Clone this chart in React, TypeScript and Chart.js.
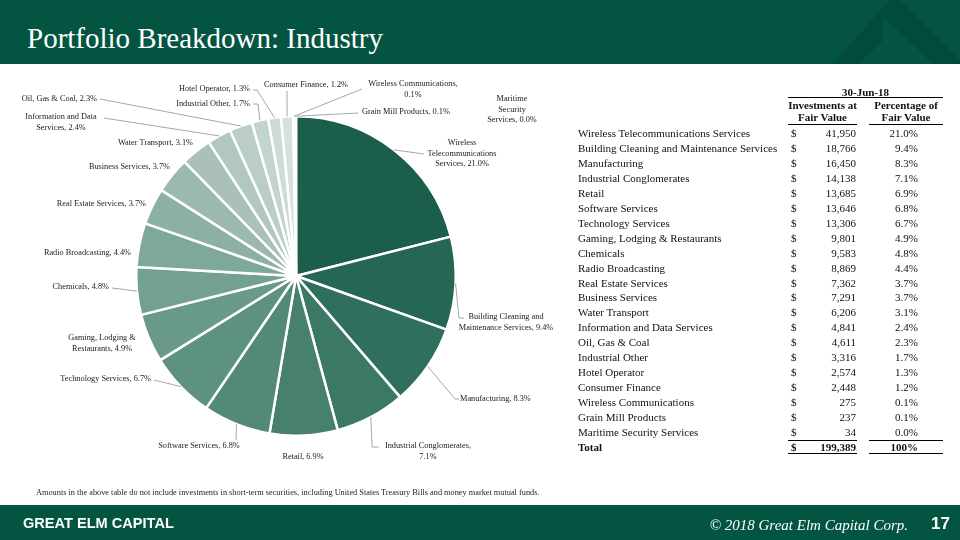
import React, { useEffect, useRef } from "react";
import { Chart, registerables } from "chart.js";

Chart.register(...registerables);

// ---------- DATA ----------
const CATEGORIES = [
  "Wireless Telecommunications Services",
  "Building Cleaning and Maintenance Services",
  "Manufacturing",
  "Industrial Conglomerates",
  "Retail",
  "Software Services",
  "Technology Services",
  "Gaming, Lodging & Restaurants",
  "Chemicals",
  "Radio Broadcasting",
  "Real Estate Services",
  "Business Services",
  "Water Transport",
  "Information and Data Services",
  "Oil, Gas & Coal",
  "Industrial Other",
  "Hotel Operator",
  "Consumer Finance",
  "Wireless Communications",
  "Grain Mill Products",
  "Maritime Security Services",
];
const FAIR_VALUES = [
  41950, 18766, 16450, 14138, 13685, 13646, 13306, 9801, 9583, 8869, 7362,
  7291, 6206, 4841, 4611, 3316, 2574, 2448, 275, 237, 34,
];
const PERCENTAGES = [
  "21.0%", "9.4%", "8.3%", "7.1%", "6.9%", "6.8%", "6.7%", "4.9%", "4.8%",
  "4.4%", "3.7%", "3.7%", "3.1%", "2.4%", "2.3%", "1.7%", "1.3%", "1.2%",
  "0.1%", "0.1%", "0.0%",
];
const TOTAL_LABEL = "Total";
const TOTAL_VALUE = "199,389";
const TOTAL_PERCENT = "100%";
const PERIOD = "30-Jun-18";
const VALUE_HEADER = ["Investments at", "Fair Value"];
const PERCENT_HEADER = ["Percentage of", "Fair Value"];
const TITLE = "Portfolio Breakdown: Industry";
const FOOTNOTE =
  "Amounts in the above table do not include investments in short-term securities, including United States Treasury Bills and money market mutual funds.";
const BRAND = "GREAT ELM CAPITAL";
const COPYRIGHT = "© 2018 Great Elm Capital Corp.";
const PAGE_NO = "17";

// ---------- STYLE / LAYOUT ----------
const GREEN = "#035542";
const SERIF = "'Liberation Serif', 'Times New Roman', serif";
const LABEL_FONT = "8.3px 'Liberation Serif'";
const LABEL_LINE_H = 10.5;

// colour anchors along the slice order (dark -> light)
const COLOR_ANCHORS: [number, number[]][] = [
  [0, [26, 94, 75]],
  [6, [93, 145, 129]],
  [9, [126, 168, 154]],
  [12, [169, 193, 185]],
  [17, [212, 225, 220]],
  [20, [228, 236, 233]],
];
function sliceColor(i: number) {
  for (let k = 0; k < COLOR_ANCHORS.length - 1; k++) {
    const [a, ca] = COLOR_ANCHORS[k];
    const [b, cb] = COLOR_ANCHORS[k + 1];
    if (i >= a && i <= b) {
      const t = (i - a) / (b - a);
      const c = ca.map((v, j) => Math.round(v + (cb[j] - v) * t));
      return `rgb(${c[0]},${c[1]},${c[2]})`;
    }
  }
  return "rgb(228,236,233)";
}

type LabelLayout = {
  x: number;
  y: number;
  align: CanvasTextAlign;
  wrap?: number[];
  leader?: number[][];
};
// text placement for each slice label (page coordinates)
const LABEL_LAYOUT: LabelLayout[] = [
  { x: 462, y: 143, align: "center", wrap: [1, 1, 2], leader: [[424, 154]] },
  { x: 506, y: 317, align: "center", wrap: [3, 3], leader: [[459, 318], [464, 318]] },
  { x: 460, y: 399, align: "left", leader: [[455, 399], [459, 399]] },
  { x: 428, y: 446, align: "center", wrap: [2, 1], leader: [[372, 447], [379, 447]] },
  { x: 303, y: 457, align: "center" },
  { x: 199, y: 446, align: "center", leader: [[236, 440]] },
  { x: 151, y: 379, align: "right", leader: [[154, 380]] },
  { x: 102, y: 338, align: "center", wrap: [3, 2] },
  { x: 109, y: 287, align: "right", leader: [[112, 288]] },
  { x: 131, y: 253, align: "right" },
  { x: 146, y: 204, align: "right" },
  { x: 170, y: 167, align: "right" },
  { x: 193, y: 143, align: "right" },
  { x: 61, y: 117, align: "center", wrap: [3, 2], leader: [[104, 118]] },
  { x: 97, y: 99, align: "right", leader: [[100, 99]] },
  { x: 250, y: 104, align: "right", leader: [[258, 104], [253, 104]] },
  { x: 250, y: 89, align: "right", leader: [[257, 90], [253, 90]] },
  { x: 306, y: 85, align: "center", leader: [[287, 91]] },
  { x: 413, y: 84, align: "center", wrap: [2, 1], leader: [[362, 89]] },
  { x: 362, y: 112, align: "left", leader: [[358, 113]] },
  { x: 512, y: 99, align: "center", wrap: [1, 1, 2] },
];

const sliceLabels = {
  id: "sliceLabels",
  afterDatasetsDraw(chart: any) {
    const ctx: CanvasRenderingContext2D = chart.ctx;
    const meta = chart.getDatasetMeta(0);
    ctx.save();
    ctx.font = LABEL_FONT;
    ctx.textBaseline = "middle";
    meta.data.forEach((arc: any, i: number) => {
      const L = LABEL_LAYOUT[i];
      if (!L) return;
      const p = arc.getProps(["x", "y", "startAngle", "endAngle", "outerRadius"], true);
      const mid = (p.startAngle + p.endAngle) / 2;
      if (L.leader) {
        ctx.beginPath();
        ctx.moveTo(p.x + Math.cos(mid) * p.outerRadius, p.y + Math.sin(mid) * p.outerRadius);
        L.leader.forEach(([x, y]) => ctx.lineTo(x, y));
        ctx.strokeStyle = "#a6a6a6";
        ctx.lineWidth = 1;
        ctx.stroke();
      }
      const words = `${CATEGORIES[i]}, ${PERCENTAGES[i]}`.split(" ");
      const lines: string[] = [];
      if (L.wrap) {
        let k = 0;
        L.wrap.forEach((n) => {
          lines.push(words.slice(k, k + n).join(" "));
          k += n;
        });
      } else lines.push(words.join(" "));
      ctx.textAlign = L.align;
      ctx.fillStyle = "#1a1a1a";
      lines.forEach((s, j) => ctx.fillText(s, L.x, L.y + j * LABEL_LINE_H));
    });
    ctx.restore();
  },
};

// ---------- TABLE HELPERS ----------
const ROW_Y0 = 133;
const ROW_STEP = 14.95;
const NAME_X = 578;
const DOLLAR_X = 791;
const VALUE_RIGHT = 856;
const PCT_RIGHT = 918;
const COL1 = [788, 857];
const COL2 = [869, 943];

function Txt(props: {
  x: number;
  y: number;
  text: string;
  w?: number;
  align?: "left" | "right" | "center";
  bold?: boolean;
  size?: number;
  color?: string;
  font?: string;
  italic?: boolean;
  scaleX?: number;
}) {
  const {
    x, y, text, w = 300, align = "left", bold = false, size = 11, color = "#111",
    font = SERIF, italic = false, scaleX = 1,
  } = props;
  const left = align === "left" ? x : align === "right" ? x - w : x - w / 2;
  return (
    <div
      style={{
        position: "absolute",
        left,
        top: y - 10,
        width: w,
        height: 20,
        lineHeight: "20px",
        textAlign: align,
        fontFamily: font,
        fontSize: size,
        fontWeight: bold ? 700 : 400,
        fontStyle: italic ? "italic" : "normal",
        color,
        whiteSpace: "nowrap",
        transform: scaleX !== 1 ? `scaleX(${scaleX})` : undefined,
        transformOrigin: "left center",
      }}
    >
      {text}
    </div>
  );
}

function HLine({ x1, x2, y }: { x1: number; x2: number; y: number }) {
  return <div style={{ position: "absolute", left: x1, top: y, width: x2 - x1, height: 1, background: "#000" }} />;
}

export default function App() {
  const canvasRef = useRef<HTMLCanvasElement>(null);

  useEffect(() => {
    const canvas = canvasRef.current;
    if (!canvas) return;
    const chart = new Chart(canvas, {
      type: "pie",
      data: {
        labels: CATEGORIES,
        datasets: [
          {
            data: FAIR_VALUES,
            backgroundColor: FAIR_VALUES.map((_, i) => sliceColor(i)),
            borderColor: "#ffffff",
            borderWidth: 2.5,
          },
        ],
      },
      options: {
        responsive: false,
        animation: false,
        devicePixelRatio: 1,
        layout: { padding: { left: 135, right: 503, top: 115, bottom: 103 } },
        plugins: {
          legend: { display: false },
          tooltip: { enabled: false },
        },
      },
      plugins: [sliceLabels],
    });
    return () => chart.destroy();
  }, []);

  const rows = CATEGORIES.map((name, i) => {
    const y = ROW_Y0 + i * ROW_STEP;
    return (
      <React.Fragment key={name}>
        <Txt x={NAME_X} y={y} text={name} />
        <Txt x={DOLLAR_X} y={y} text="$" />
        <Txt x={VALUE_RIGHT} y={y} text={FAIR_VALUES[i].toLocaleString("en-US")} align="right" w={80} />
        <Txt x={PCT_RIGHT} y={y} text={PERCENTAGES[i]} align="right" w={60} />
      </React.Fragment>
    );
  });
  const totalY = ROW_Y0 + CATEGORIES.length * ROW_STEP;

  return (
    <div
      style={{
        position: "fixed",
        left: 0,
        top: 0,
        width: 960,
        height: 540,
        overflow: "hidden",
        background: "#fff",
        fontFamily: SERIF,
      }}
    >
      {/* header */}
      <div style={{ position: "absolute", left: 0, top: 0, width: 960, height: 64, background: GREEN }} />
      <svg width={960} height={64} style={{ position: "absolute", left: 0, top: 0 }}>
        <polygon points="890,0 900,0 960,60 960,64 933,64 882,15" fill="#024b3a" />
        <polygon points="890,0 882,15 882,42 858,64 832,64" fill="#024b3a" />
      </svg>
      <Txt x={27} y={38} text={TITLE} size={29} color="#fff" w={500} />

      {/* pie canvas */}
      <canvas ref={canvasRef} width={960} height={540} style={{ position: "absolute", left: 0, top: 0, width: 960, height: 540 }} />

      {/* table header */}
      <Txt x={(COL1[0] + COL2[1]) / 2} y={91.5} text={PERIOD} align="center" w={160} bold />
      <HLine x1={COL1[0]} x2={COL2[1]} y={97} />
      <Txt x={(COL1[0] + COL1[1]) / 2} y={104.5} text={VALUE_HEADER[0]} align="center" w={90} bold />
      <Txt x={(COL1[0] + COL1[1]) / 2} y={117} text={VALUE_HEADER[1]} align="center" w={90} bold />
      <Txt x={(COL2[0] + COL2[1]) / 2} y={104.5} text={PERCENT_HEADER[0]} align="center" w={90} bold />
      <Txt x={(COL2[0] + COL2[1]) / 2} y={117} text={PERCENT_HEADER[1]} align="center" w={90} bold />
      <HLine x1={COL1[0]} x2={COL1[1]} y={124} />
      <HLine x1={COL2[0]} x2={COL2[1]} y={124} />

      {rows}

      <HLine x1={COL1[0]} x2={COL1[1]} y={totalY - 7} />
      <HLine x1={COL2[0]} x2={COL2[1]} y={totalY - 7} />
      <Txt x={NAME_X} y={totalY} text={TOTAL_LABEL} bold />
      <Txt x={DOLLAR_X} y={totalY} text="$" bold />
      <Txt x={VALUE_RIGHT} y={totalY} text={TOTAL_VALUE} align="right" w={80} bold />
      <Txt x={PCT_RIGHT} y={totalY} text={TOTAL_PERCENT} align="right" w={60} bold />
      <HLine x1={COL1[0]} x2={COL1[1]} y={totalY + 6} />
      <HLine x1={COL2[0]} x2={COL2[1]} y={totalY + 6} />

      {/* footnote */}
      <Txt x={36} y={493} text={FOOTNOTE} size={8.3} w={700} color="#222" />

      {/* footer */}
      <div style={{ position: "absolute", left: 0, top: 505, width: 960, height: 35, background: GREEN }} />
      <Txt x={23} y={523} text={BRAND} size={15.5} bold color="#fff" w={300} font="'Liberation Sans', sans-serif" scaleX={0.94} />
      <Txt x={908} y={524.5} text={COPYRIGHT} size={15} italic color="#fff" align="right" w={300} />
      <Txt x={931} y={523.5} text={PAGE_NO} size={17} bold color="#fff" w={30} font="'Liberation Sans', sans-serif" />
    </div>
  );
}
